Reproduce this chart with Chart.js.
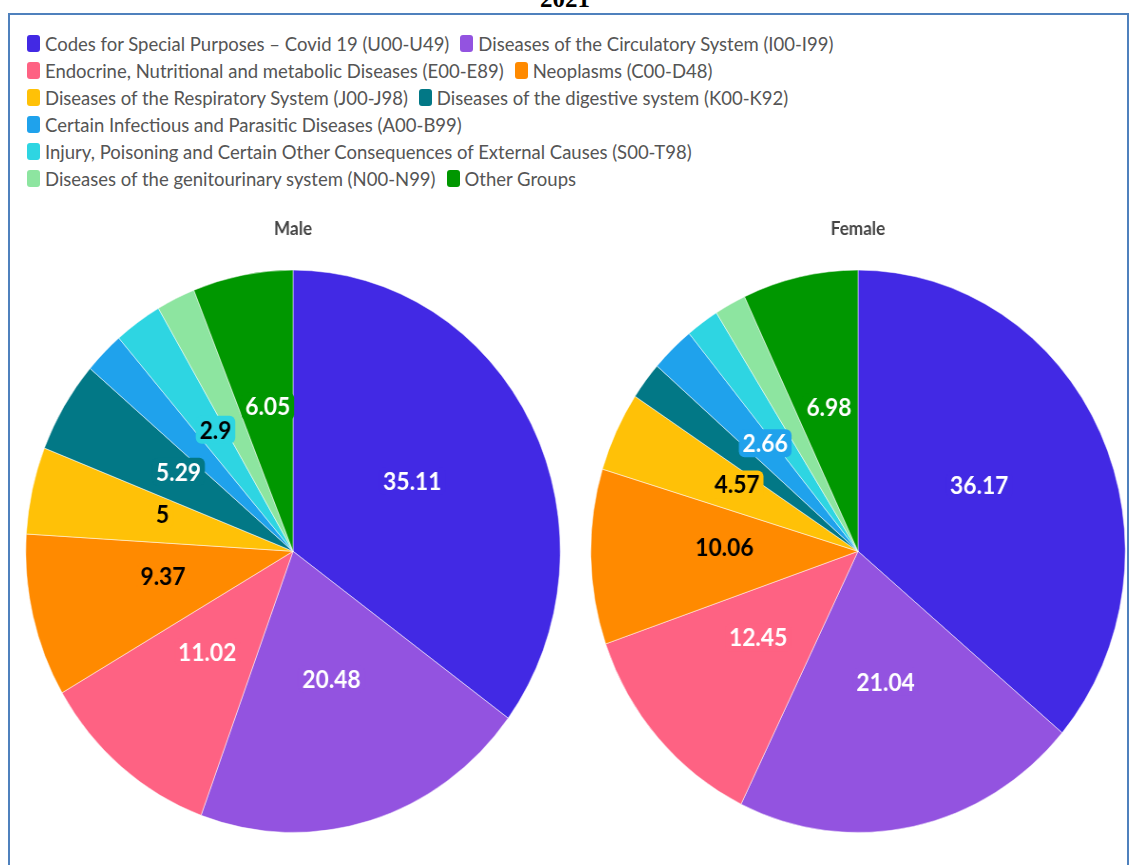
<!DOCTYPE html>
<html>
<head>
<meta charset="utf-8">
<script src="https://cdn.jsdelivr.net/npm/chart.js@4/dist/chart.umd.min.js"></script>
<style>
  body { margin: 0; background: #fff; width: 1130px; height: 865px; overflow: hidden; position: relative; }
  #year { position: absolute; top: -13px; left: 0; width: 1130px; text-align: center; font: bold 25px "Liberation Serif", serif; line-height: 24px; color: #000; }
  #frame { position: absolute; left: 8px; top: 13px; width: 1117px; height: 900px; border: 2px solid #4f81bd; }
  #legend { position: absolute; left: 27px; top: 30px; width: 900px; display: flex; flex-wrap: wrap; font: 18.5px Lato, sans-serif; color: #555; }
  .item { display: flex; align-items: center; height: 27px; margin-right: 11px; white-space: nowrap; }
  .swatch { width: 13px; height: 17px; border-radius: 3px; margin-right: 5px; }
  canvas { position: absolute; }
</style>
</head>
<body>
<div id="year">2021</div>
<div id="frame"></div>
<div id="legend"></div>
<canvas id="male" width="564" height="615" style="left:25px; top:218px; width:536px; height:615px;"></canvas>
<canvas id="female" width="564" height="615" style="left:590px; top:218px; width:536px; height:615px;"></canvas>
<script>
// Cause-of-death groups, share of deaths (%)
const categories = [
  'Codes for Special Purposes – Covid 19 (U00-U49)',
  'Diseases of the Circulatory System (I00-I99)',
  'Endocrine, Nutritional and metabolic Diseases (E00-E89)',
  'Neoplasms (C00-D48)',
  'Diseases of the Respiratory System (J00-J98)',
  'Diseases of the digestive system (K00-K92)',
  'Certain Infectious and Parasitic Diseases (A00-B99)',
  'Injury, Poisoning and Certain Other Consequences of External Causes (S00-T98)',
  'Diseases of the genitourinary system (N00-N99)',
  'Other Groups'
];
const maleValues = [35.11, 20.48, 11.02, 9.37, 5, 5.29, 2.43, 2.9, 2.35, 6.05];
const femaleValues = [36.17, 21.04, 12.45, 10.06, 4.57, 2.16, 2.66, 2.0, 1.91, 6.98];

const sliceColors = ['#4229e4', '#9353e0', '#fe6283', '#ff8a00', '#ffc107', '#027886', '#1fa2ec', '#2ed5e2', '#8de5a0', '#009700'];
const labelColors = ['#fff', '#fff', '#fff', '#000', '#000', '#fff', '#fff', '#000', '#fff', '#fff'];

// Legend built from the same arrays
const legendEl = document.getElementById('legend');
categories.forEach((name, i) => {
  const item = document.createElement('div');
  item.className = 'item';
  item.innerHTML = `<span class="swatch" style="background:${sliceColors[i]}"></span>${name}`;
  legendEl.appendChild(item);
  // rows break like the original layout
  if (i === 6 || i === 7) {
    const br = document.createElement('div');
    br.style.flexBasis = '100%';
    legendEl.appendChild(br);
  }
});

// Value labels in the middle of each slice (small slices skipped)
const sliceLabels = {
  id: 'sliceLabels',
  afterDatasetsDraw(chart) {
    const ctx = chart.ctx;
    const values = chart.data.datasets[0].data;
    ctx.save();
    ctx.font = 'bold 24px Lato, sans-serif';
    ctx.textAlign = 'center';
    ctx.textBaseline = 'middle';
    chart.getDatasetMeta(0).data.forEach((arc, i) => {
      if (values[i] < 2.5) return;
      const pos = arc.tooltipPosition();
      const y = pos.y - 7;
      const text = String(values[i]);
      const w = ctx.measureText(text).width + 8;
      const h = 28;
      ctx.fillStyle = sliceColors[i];
      ctx.beginPath();
      ctx.roundRect(pos.x - w / 2, y - h / 2, w, h, 6);
      ctx.fill();
      ctx.fillStyle = labelColors[i];
      ctx.fillText(text, pos.x, y + 1);
    });
    ctx.restore();
  }
};

const makePie = (id, title, values) => new Chart(document.getElementById(id), {
  type: 'pie',
  data: {
    labels: categories,
    datasets: [{
      data: values,
      backgroundColor: sliceColors,
      borderColor: 'rgba(255,255,255,0.5)',
      borderWidth: 1
    }]
  },
  options: {
    responsive: false,
    animation: false,
    layout: { padding: 0 },
    plugins: {
      legend: { display: false },
      tooltip: { enabled: false },
      title: {
        display: true,
        text: title,
        color: '#444',
        font: { family: 'Lato', size: 18, weight: 'bold' },
        padding: { top: 0, bottom: 30 }
      }
    }
  },
  plugins: [sliceLabels]
});

makePie('male', 'Male', maleValues);
makePie('female', 'Female', femaleValues);
</script>
</body>
</html>
